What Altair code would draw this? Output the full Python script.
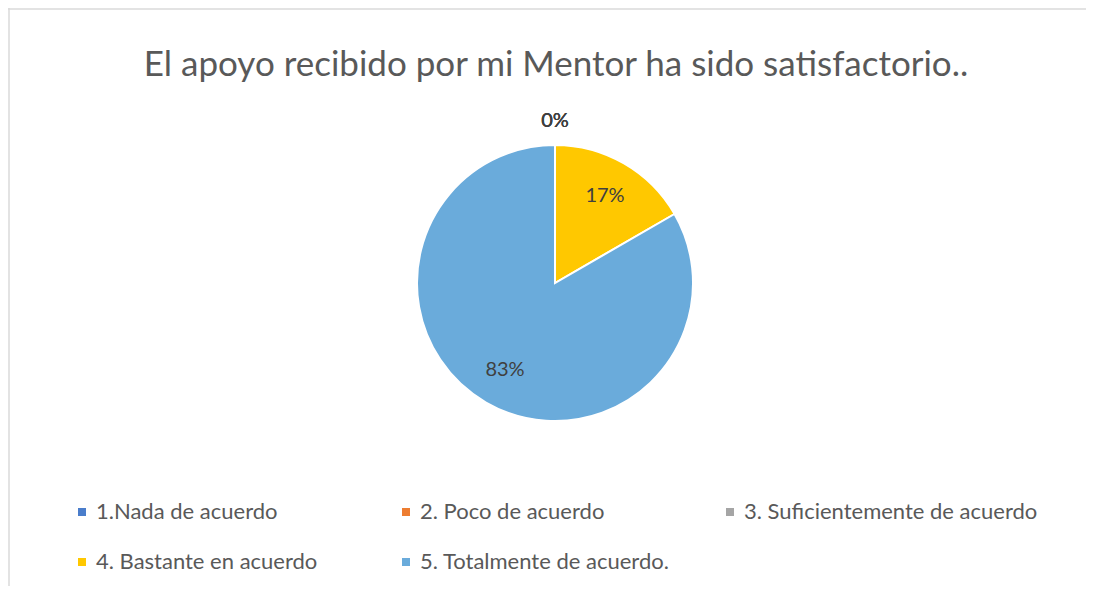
import altair as alt
import pandas as pd

categories = ["1.Nada de acuerdo", "2. Poco de acuerdo", "3. Suficientemente de acuerdo",
              "4. Bastante en acuerdo", "5. Totalmente de acuerdo."]
counts = [0, 0, 0, 1, 5]
orden = [1, 2, 3, 4, 5]
colors = ["#4A7DCB", "#ED7D31", "#A5A5A5", "#FFC800", "#6AABDB"]
title_text = "El apoyo recibido por mi Mentor ha sido satisfactorio.."

W, H = 1078, 578
CX, CY = 547, 275
R = 138

df = pd.DataFrame({"categoria": categories, "valor": counts, "orden": orden})
frame_df = pd.DataFrame({"k": [0]})

base = alt.Chart(df).transform_joinaggregate(total="sum(valor)").transform_calculate(
    pct="datum.valor / datum.total"
)

color = alt.Color(
    "categoria:N",
    scale=alt.Scale(domain=categories, range=colors),
    legend=alt.Legend(
        orient="none", legendX=63, legendY=493, direction="horizontal", columns=3,
        gridAlign="all", symbolType="square", symbolSize=64, symbolStrokeWidth=0,
        labelFont="Lato", labelFontSize=22, labelColor="#595959", labelOffset=3,
        columnPadding=5, rowPadding=28, title=None, labelLimit=400,
    ),
)

pie = base.mark_arc(outerRadius=R, stroke="white", strokeWidth=2).encode(
    theta=alt.Theta("valor:Q", stack=True),
    order=alt.Order("orden:Q"),
    color=color,
    x=alt.value(CX), y=alt.value(CY),
)

inner = base.transform_filter("datum.valor > 0").mark_text(
    font="Lato", fontSize=20, color="#404040", align="center", baseline="middle"
).encode(
    theta=alt.Theta("valor:Q", stack=True),
    order=alt.Order("orden:Q"),
    detail="categoria:N",
    radius=alt.value(100),
    text=alt.Text("pct:Q", format=".0%"),
    x=alt.value(CX), y=alt.value(CY),
)

zeros = base.transform_filter("datum.valor == 0").mark_text(
    font="Lato", fontSize=20, color="#404040", align="center", baseline="middle"
).encode(
    theta=alt.Theta("valor:Q", stack=True),
    order=alt.Order("orden:Q"),
    detail="categoria:N",
    radius=alt.value(162),
    text=alt.Text("pct:Q", format=".0%"),
    x=alt.value(CX), y=alt.value(CY),
)

top_line = alt.Chart(frame_df).mark_rule(color="#DADADA", strokeWidth=1.5).encode(
    y=alt.value(1)
)
left_line = alt.Chart(frame_df).mark_rule(color="#DADADA", strokeWidth=1.5).encode(
    x=alt.value(1)
)

chart = alt.layer(top_line, left_line, pie, inner, zeros).properties(
    width=W, height=H,
    title=alt.Title(title_text, font="Lato", fontSize=35, fontWeight="normal",
                    color="#595959", anchor="middle", dy=80, dx=9),
    autosize=alt.AutoSizeParams(type="none"),
    padding=0,
).configure_view(
    strokeWidth=0, stroke="transparent"
)

chart.save("out.html", embed_options={"renderer": "svg", "actions": False})
